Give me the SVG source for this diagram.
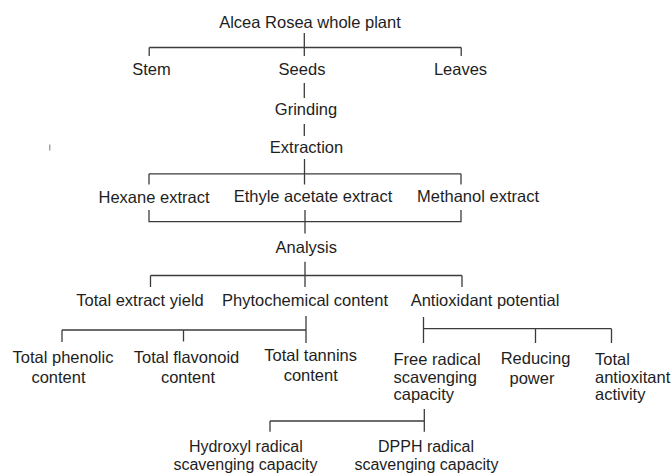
<svg xmlns="http://www.w3.org/2000/svg" width="672" height="476" viewBox="0 0 672 476">
<style>
  text { font-family: "Liberation Sans", Arial, sans-serif; font-size: 16.5px; fill: #1e1e1e; }
  .c { text-anchor: middle; }
  .l { text-anchor: start; }
  .s { font-size: 16px; }
  #connectors path { fill: none; stroke: #3c3c3c; stroke-width: 1.3; }
  #connectors path.stray { stroke: #777; stroke-width: 1; }
</style>
<rect width="672" height="476" fill="#ffffff"/>
<g id="connectors">
  <path d="M304.3,33 V56 M149.2,47.5 H461.2 M149.2,47.5 V56 M461.2,47.5 V56"/>
  <path d="M304.3,83 V98"/>
  <path d="M304.3,124 V136"/>
  <path d="M304.5,159 V184.5 M149,173.8 H461 M149,173.8 V184.5 M461,173.8 V184.5"/>
  <path d="M149,210 V221.7 H461 V210 M305,210 V233.5"/>
  <path d="M305,261.7 V287 M150.5,275.5 H462 M150.5,275.5 V287 M462,275.5 V287"/>
  <path d="M306,316 V343 M62,330 H306 M62,330 V342 M183.5,330 V341.5"/>
  <path d="M423.5,317 V343 M423.5,328.7 H611.5 M535.5,328.7 V343 M611.5,328.7 V343"/>
  <path d="M424.3,409 V431.7 M270,421 H424.3 M270,421 V431.7"/>
  <path class="stray" d="M49.8,144.5 V150.5"/>
</g>
<g id="alcea"><text class="c" x="310" y="27.5">Alcea Rosea whole plant</text></g>
<g id="stem"><text class="c" x="151.5" y="75">Stem</text></g>
<g id="seeds"><text class="c" x="302" y="75">Seeds</text></g>
<g id="leaves"><text class="c" x="460.5" y="75">Leaves</text></g>
<g id="grinding"><text class="c" x="306" y="114.5">Grinding</text></g>
<g id="extraction"><text class="c" x="306.5" y="153.3">Extraction</text></g>
<g id="hexane"><text class="c" x="154" y="202.8">Hexane extract</text></g>
<g id="ethyl"><text class="c" x="313" y="202">Ethyle acetate extract</text></g>
<g id="methanol"><text class="c" x="478" y="202">Methanol extract</text></g>
<g id="analysis"><text class="c" x="306.3" y="253">Analysis</text></g>
<g id="yield"><text class="c" x="140" y="306">Total extract yield</text></g>
<g id="phyto"><text class="c" x="305" y="306">Phytochemical content</text></g>
<g id="antiox"><text class="c" x="485" y="306">Antioxidant potential</text></g>
<g id="phenolic"><text class="c" x="63" y="362.5">Total phenolic</text><text class="c" x="58.5" y="382.5">content</text></g>
<g id="flavonoid"><text class="c" x="186.5" y="362.5">Total flavonoid</text><text class="c" x="188" y="382.5">content</text></g>
<g id="tannins"><text class="c" x="310.7" y="360.5">Total tannins</text><text class="c" x="310.7" y="380.5">content</text></g>
<g id="freeradical"><text class="l" x="393.5" y="365">Free radical</text><text class="l" x="393.5" y="382.5">scavenging</text><text class="l" x="393.5" y="399.5">capacity</text></g>
<g id="reducing"><text class="c" x="535.5" y="364.3">Reducing</text><text class="c" x="532" y="384">power</text></g>
<g id="totalantiox"><text class="l" x="595" y="364.5">Total</text><text class="l" x="595" y="383">antioxitant</text><text class="l" x="595" y="400">activity</text></g>
<g id="hydroxyl"><text class="c s" x="245.8" y="451.5">Hydroxyl radical</text><text class="c s" x="245.5" y="470">scavenging capacity</text></g>
<g id="dpph"><text class="c s" x="426" y="451.5">DPPH radical</text><text class="c s" x="426.5" y="470">scavenging capacity</text></g>
</svg>
